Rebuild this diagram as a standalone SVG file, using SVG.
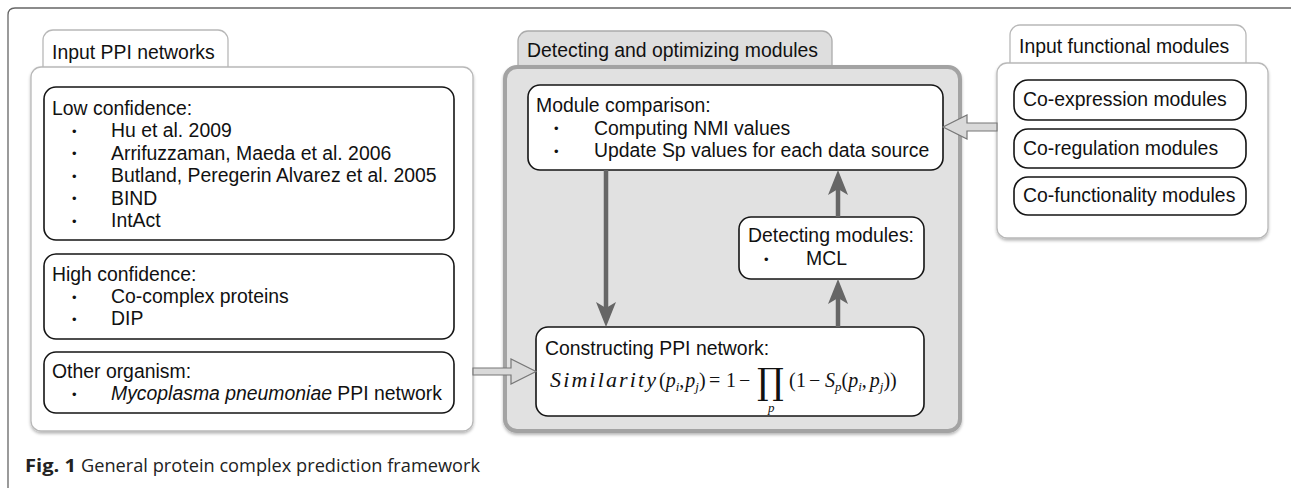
<svg xmlns="http://www.w3.org/2000/svg" width="1291" height="488" viewBox="0 0 1291 488">
  <style>
    .txt { font-family: "Liberation Sans", Arial, sans-serif; font-size: 19.4px; fill: #111; }
    .bul { font-family: "Liberation Sans", Arial, sans-serif; font-size: 13px; fill: #111; }
    .panel { fill: #fff; stroke: #b8b8b8; stroke-width: 1.3; }
    .box { fill: #fff; stroke: #151515; stroke-width: 1.6; }
    .math { font-family: "Liberation Serif", "DejaVu Serif", serif; font-size: 20px; fill: #111; }
    .it { font-style: italic; }
    .sub { font-size: 13px; }
    .flow { stroke: #666; stroke-width: 4.5; fill: none; marker-end: url(#head); }
    .hollow { fill: #d9d9d9; stroke: #777; stroke-width: 1.2; }
    .cap { font-family: "Open Sans", "Liberation Sans", sans-serif; font-size: 18px; fill: #222; }
  </style>
  <defs>
    <filter id="shadow" x="-5%" y="-5%" width="110%" height="115%">
      <feDropShadow dx="0" dy="2" stdDeviation="1.6" flood-color="#000" flood-opacity="0.28"/>
    </filter>
    <marker id="head" viewBox="-26 -11 27 22" refX="-19" refY="0" markerWidth="27" markerHeight="22" markerUnits="userSpaceOnUse" orient="auto">
      <path d="M0,0 L-25,-10 L-19,0 L-25,10 Z" fill="#666"/>
    </marker>
  </defs>

  <rect width="1291" height="488" fill="#fff"/>

  <!-- figure frame: top and left rule only -->
  <path d="M8,488 L8,15 Q8,8 15,8 L1291,8" fill="none" stroke="#666" stroke-width="1.3"/>

  <!-- left panel: input PPI networks -->
  <g id="input-ppi">
    <rect class="panel" x="43" y="30" width="185" height="50" rx="10"/>
    <rect class="panel" x="31" y="67" width="442" height="364" rx="10" filter="url(#shadow)"/>
    <text class="txt" x="52" y="59">Input PPI networks</text>
  </g>

  <g id="low-confidence">
    <rect class="box" x="44" y="87" width="410" height="153" rx="12"/>
    <text class="txt" x="52" y="115">Low confidence:</text>
    <text class="bul" x="72" y="136">•</text><text class="txt" x="111" y="137.4">Hu et al. 2009</text>
    <text class="bul" x="72" y="158.4">•</text><text class="txt" x="111" y="159.8">Arrifuzzaman, Maeda et al. 2006</text>
    <text class="bul" x="72" y="180.8">•</text><text class="txt" x="111" y="182.2">Butland, Peregerin Alvarez et al. 2005</text>
    <text class="bul" x="72" y="203.2">•</text><text class="txt" x="111" y="204.6">BIND</text>
    <text class="bul" x="72" y="225.6">•</text><text class="txt" x="111" y="227">IntAct</text>
  </g>

  <g id="high-confidence">
    <rect class="box" x="44" y="254" width="410" height="85" rx="12"/>
    <text class="txt" x="52" y="281">High confidence:</text>
    <text class="bul" x="72" y="301.6">•</text><text class="txt" x="111" y="303">Co-complex proteins</text>
    <text class="bul" x="72" y="323.6">•</text><text class="txt" x="111" y="325">DIP</text>
  </g>

  <g id="other-organism">
    <rect class="box" x="44" y="352" width="410" height="61" rx="12"/>
    <text class="txt" x="52" y="378">Other organism:</text>
    <text class="bul" x="72" y="398.6">•</text><text class="txt" x="111" y="400"><tspan class="it">Mycoplasma pneumoniae</tspan> PPI network</text>
  </g>

  <!-- centre panel: detecting and optimizing modules -->
  <g id="detecting-optimizing">
    <rect x="518" y="31" width="314" height="50" rx="10" fill="#dedede" stroke="#ababab" stroke-width="1.3"/>
    <rect x="505" y="67" width="455" height="364" rx="12" fill="#e1e1e1" stroke="#a3a3a3" stroke-width="4" filter="url(#shadow)"/>
    <text class="txt" x="527" y="57">Detecting and optimizing modules</text>
  </g>

  <g id="module-comparison">
    <rect class="box" x="528" y="85" width="415" height="85" rx="12"/>
    <text class="txt" x="536" y="112">Module comparison:</text>
    <text class="bul" x="554" y="133">•</text><text class="txt" x="594" y="134.5">Computing NMI values</text>
    <text class="bul" x="554" y="155.5">•</text><text class="txt" x="594" y="157">Update Sp values for each data source</text>
  </g>

  <g id="detecting-modules">
    <rect class="box" x="739" y="217" width="185" height="62" rx="12"/>
    <text class="txt" x="748" y="242">Detecting modules:</text>
    <text class="bul" x="764" y="263.5">•</text><text class="txt" x="806" y="265">MCL</text>
  </g>

  <g id="constructing-ppi">
    <rect class="box" x="536" y="327" width="388" height="89" rx="12"/>
    <text class="txt" x="545" y="355">Constructing PPI network:</text>
    <!-- Similarity(p_i,p_j) = 1 - prod_p (1 - S_p(p_i,p_j)) -->
    <text class="math" y="387"><tspan class="it" x="550" font-size="22" textLength="106" lengthAdjust="spacing">Similarity</tspan><tspan x="659">(</tspan><tspan class="it">p</tspan><tspan class="it sub" dy="4">i</tspan><tspan dy="-4">,</tspan><tspan class="it" dx="1">p</tspan><tspan class="it sub" dy="4">j</tspan><tspan dy="-4">)</tspan><tspan x="709">=</tspan><tspan x="726">1</tspan><tspan x="739">−</tspan></text>
    <text x="757" y="394" font-family="DejaVu Serif, serif" font-size="36" fill="#111" textLength="27" lengthAdjust="spacingAndGlyphs">∏</text>
    <text class="math it sub" x="768" y="412">p</text>
    <text class="math" y="387"><tspan x="789">(</tspan><tspan x="796">1</tspan><tspan x="809">−</tspan><tspan class="it" x="825">S</tspan><tspan class="it sub" dy="4">p</tspan><tspan dy="-4">(</tspan><tspan class="it">p</tspan><tspan class="it sub" dy="4">i</tspan><tspan dy="-4">,</tspan><tspan class="it" dx="3">p</tspan><tspan class="it sub" dy="4">j</tspan><tspan dy="-4">))</tspan></text>
  </g>

  <!-- right panel: input functional modules -->
  <g id="input-functional">
    <rect class="panel" x="1010" y="25" width="236" height="50" rx="10"/>
    <rect class="panel" x="997" y="63" width="271" height="175" rx="10" filter="url(#shadow)"/>
    <text class="txt" x="1019" y="53">Input functional modules</text>
  </g>
  <g id="co-expression">
    <rect class="box" x="1014" y="80" width="232" height="40" rx="14"/>
    <text class="txt" x="1023" y="106">Co-expression modules</text>
  </g>
  <g id="co-regulation">
    <rect class="box" x="1014" y="129" width="232" height="39" rx="14"/>
    <text class="txt" x="1023" y="155">Co-regulation modules</text>
  </g>
  <g id="co-functionality">
    <rect class="box" x="1014" y="177" width="232" height="38" rx="14"/>
    <text class="txt" x="1023" y="202">Co-functionality modules</text>
  </g>

  <!-- connectors -->
  <g id="connectors">
    <line class="flow" x1="606" y1="170" x2="606" y2="308"/>
    <line class="flow" x1="838" y1="327" x2="838" y2="298"/>
    <line class="flow" x1="838" y1="217" x2="838" y2="189"/>
    <polygon class="hollow" points="473,368 511,368 511,359 536,371.5 511,384 511,375 473,375"/>
    <polygon class="hollow" points="997,123 967,123 967,115 943,127 967,139 967,131 997,131"/>
  </g>

  <!-- caption -->
  <text class="cap" x="25" y="472" font-weight="bold" textLength="51" lengthAdjust="spacingAndGlyphs">Fig. 1</text>
  <text class="cap" x="81" y="472" textLength="399" lengthAdjust="spacingAndGlyphs">General protein complex prediction framework</text>
</svg>
